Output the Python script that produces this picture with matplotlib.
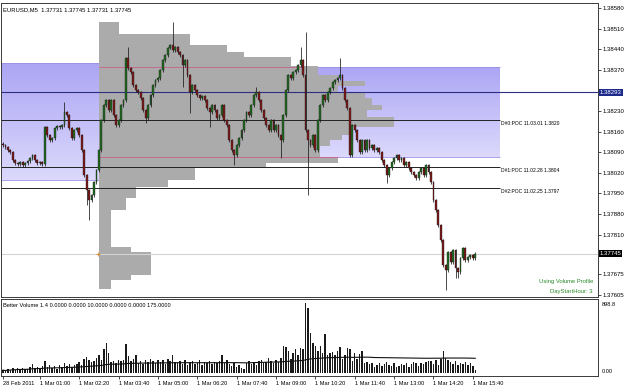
import matplotlib.pyplot as plt
import numpy as np
import pandas as pd

plt.rcParams['font.family'] = ['Liberation Sans', 'DejaVu Sans']

# prices are stored as points (1e-5) above 1.37000
BASE = 1.37
first_open = 1118
closes = [1114, 1107, 1097, 1090, 1063, 1053, 1049, 1056, 1046, 1053,
          1060, 1070, 1080, 1063, 1053, 1056, 1049, 1175, 1148, 1131,
          1138, 1172, 1179, 1175, 1182, 1226, 1216, 1172, 1138, 1165,
          1172, 1148, 1097, 1012, 961, 927, 944, 988, 1029, 1097,
          1199, 1250, 1267, 1233, 1267, 1216, 1182, 1199, 1250, 1267,
          1410, 1376, 1362, 1318, 1301, 1294, 1274, 1233, 1206, 1250,
          1284, 1318, 1335, 1342, 1369, 1403, 1420, 1444, 1454, 1437,
          1447, 1430, 1420, 1386, 1403, 1352, 1294, 1318, 1301, 1284,
          1274, 1281, 1267, 1240, 1226, 1250, 1233, 1206, 1216, 1250,
          1199, 1182, 1131, 1097, 1080, 1114, 1138, 1165, 1199, 1226,
          1216, 1250, 1284, 1294, 1267, 1233, 1206, 1182, 1165, 1199,
          1165, 1182, 1148, 1131, 1216, 1301, 1352, 1342, 1362, 1369,
          1386, 1403, 1352, 1165, 1131, 1114, 1148, 1097, 1199, 1250,
          1284, 1267, 1294, 1308, 1328, 1335, 1342, 1352, 1308, 1267,
          1240, 1080, 1182, 1165, 1131, 1090, 1131, 1097, 1131, 1104,
          1114, 1097, 1104, 1090, 1063, 1046, 1012, 1036, 1056, 1070,
          1080, 1063, 1070, 1046, 1056, 1036, 1022, 1012, 1002, 1022,
          1036, 1012, 1046, 1022, 988, 927, 893, 842, 791, 706,
          689, 750, 716, 757, 696, 682, 730, 764, 723, 733,
          740, 730, 745]
high_spikes = {25: 1260, 51: 1447, 69: 1532, 103: 1311, 121: 1447, 123: 1498, 137: 1410}
low_spikes = {34: 910, 35: 860, 58: 1189, 73: 1311, 76: 1223, 84: 1175, 94: 1046,
              113: 1070, 124: 944, 156: 985, 180: 622, 184: 662, 185: 662}
WICK = 5

volumes = [38, 25, 51, 38, 63, 38, 63, 51, 63, 51,
           51, 76, 114, 63, 76, 51, 89, 152, 76, 101,
           63, 89, 51, 101, 76, 127, 89, 114, 76, 101,
           114, 139, 101, 177, 203, 165, 139, 152, 190, 228,
           165, 304, 380, 253, 139, 152, 127, 165, 152, 165,
           367, 215, 152, 177, 228, 127, 152, 114, 165, 139,
           177, 152, 127, 165, 139, 165, 114, 177, 152, 228,
           139, 127, 152, 114, 165, 101, 139, 152, 114, 127,
           165, 101, 139, 127, 152, 114, 139, 127, 152, 228,
           127, 165, 114, 89, 127, 76, 101, 63, 51, 127,
           152, 114, 139, 101, 152, 165, 127, 139, 190, 152,
           127, 165, 139, 190, 342, 329, 279, 177, 253, 304,
           228, 317, 304, 899, 836, 519, 380, 342, 279, 342,
           253, 494, 228, 253, 266, 228, 279, 329, 177, 228,
           317, 304, 152, 253, 177, 241, 279, 127, 139, 114,
           127, 76, 101, 127, 89, 114, 139, 101, 89, 127,
           76, 89, 114, 101, 127, 76, 114, 139, 127, 89,
           127, 114, 139, 152, 152, 114, 165, 101, 177, 279,
           190, 165, 139, 114, 152, 101, 127, 114, 139, 101,
           127, 89, 38]

# volume profile of the current day (price edges in points, counts in bars)
prof_start = 39
prof_edges = [1533, 1492, 1454, 1431, 1414, 1383, 1352, 1332, 1315, 1295, 1274, 1251,
              1234, 1210, 1176, 1149, 1132, 1111, 1074, 1054, 1037, 996, 972, 935,
              894, 768, 751, 673, 656, 626]
prof_count = [8, 37, 52, 59, 78, 89, 97, 108, 97, 108, 111, 115, 109, 120, 102,
              99, 94, 90, 97, 68, 39, 28, 15, 11, 5, 13, 21, 13, 5]

va_prev = (996, 1393)
va_cur = (1074, 1379)
pocs = [(1.3820, 'D#0:POC 11.03.01 1.3820'),
        (1.3804, 'D#1:POC 11.02.28 1.3804'),
        (1.3797, 'D#2:POC 11.02.25 1.3797')]
level_line = 1.38293
bid = 1.37745
price_ticks = [1.38580, 1.38510, 1.38440, 1.38370, 1.38230, 1.38160, 1.38090,
               1.38020, 1.37950, 1.37880, 1.37810, 1.37675, 1.37605]
tick_bars = [0, 15, 31, 47, 63, 79, 95, 111, 127, 143, 159, 175, 191]

n = len(closes)
c = BASE + np.array(closes) / 1e5
o = BASE + np.array([first_open] + closes[:-1]) / 1e5
hi = np.maximum(o, c) + WICK / 1e5
lo = np.minimum(o, c) - WICK / 1e5
for k, v in high_spikes.items():
    hi[k] = BASE + v / 1e5
for k, v in low_spikes.items():
    lo[k] = BASE + v / 1e5
x = np.arange(n)
times = pd.date_range('2011-02-28 23:45', periods=n, freq='5min')

fig = plt.figure(figsize=(6.25, 3.91), dpi=100)
ax = fig.add_axes([1 / 625, 1 - 297 / 391, 597 / 625, 294 / 391])
axv = fig.add_axes([1 / 625, 1 - 376 / 391, 597 / 625, 77 / 391])
xlim = (-0.8, 241.9)
ylim = (1.37598, 1.38597)


def gradient_box(x0, x1, p0, p1):
    t = np.linspace(0, 1, 64)[:, None, None]
    top = np.array([172, 166, 244]) / 255
    bot = np.array([220, 217, 252]) / 255
    img = top * (1 - t) + bot * t
    ax.imshow(img, extent=[x0, x1, p0, p1], origin='upper', aspect='auto', zorder=0)
    ax.hlines([p0, p1], x0, x1, color='#9a92e4', lw=0.6, zorder=0.5)


gradient_box(xlim[0], prof_start, BASE + va_prev[0] / 1e5, BASE + va_prev[1] / 1e5)
gradient_box(prof_start, 202, BASE + va_cur[0] / 1e5, BASE + va_cur[1] / 1e5)

# profile
edges = BASE + np.array(prof_edges) / 1e5
ax.barh(edges[1:], prof_count, height=edges[:-1] - edges[1:], left=prof_start,
        align='edge', color='#ababab', zorder=1)
ax.hlines(BASE + va_cur[1] / 1e5, prof_start, 122, color='#c8608a', lw=0.6, zorder=1.5)
ax.hlines(BASE + va_cur[0] / 1e5, prof_start, 136, color='#c8608a', lw=0.6, zorder=1.5)

# lines
ax.axhline(level_line, color='#2e2e80', lw=0.8, zorder=2)
ax.axhline(bid, color='#d2d2d2', lw=0.8, zorder=2)
for p, lab in pocs:
    ax.hlines(p, xlim[0], 202, color='#222222', lw=0.7, zorder=2)
    ax.text(202.5, p - 0.00013, lab, fontsize=3.6, va='center', ha='left', zorder=5)
ax.plot(prof_start - 0.5, bid, marker='+', color='#e08020', ms=2.5, mew=0.6, zorder=5)

# candles
up = c >= o
ax.vlines(x, lo, hi, color='#1a1a1a', lw=0.55, zorder=3)
body = np.maximum(np.abs(c - o), 0.000025)
ax.bar(x, body, bottom=np.minimum(o, c), width=0.75,
       color=np.where(up, '#236b23', '#7d1a1a'), edgecolor='#111111', lw=0.25, zorder=4)

ax.set_xlim(*xlim)
ax.set_ylim(*ylim)
ax.set_xticks([])
ax.yaxis.tick_right()
ax.set_yticks(price_ticks)
ax.set_yticklabels([f'{p:.5f}' for p in price_ticks])
ax.tick_params(axis='y', length=2, width=0.5, labelsize=4.3, pad=1.5)
for lab, p, bg in [('1.38293', level_line, '#1c2a8c'), ('1.37745', bid, '#000000')]:
    ax.text(1.003, p, lab, transform=ax.get_yaxis_transform(), fontsize=4.3, color='white',
            va='center', ha='left', clip_on=False,
            bbox=dict(boxstyle='square,pad=0.15', fc=bg, ec='none'))
ax.text(0.004, 0.976, 'EURUSD,M5  1.37731 1.37745 1.37731 1.37745', transform=ax.transAxes,
        fontsize=4.2, va='center', ha='left')
ax.text(0.992, (297 - 282) / 294, 'Using Volume Profile', transform=ax.transAxes,
        fontsize=4.2, color='#2a8a2a', ha='right', va='center')
ax.text(0.990, (297 - 291) / 294, 'DayStartHour: 3', transform=ax.transAxes,
        fontsize=4.2, color='#2a8a2a', ha='right', va='center')

# volume panel
ma = pd.Series(volumes).rolling(100, min_periods=1).mean()
axv.bar(x, volumes, width=0.6, color='#1a1a1a', zorder=2)
axv.plot(x, ma, color='#111111', lw=0.8, zorder=3)
axv.set_xlim(*xlim)
axv.set_ylim(-38, 949)
axv.set_yticks([])
axv.text(0.004, 0.92, 'Better Volume 1.4 0.0000 0.0000 10.0000 0.0000 0.0000 175.0000',
         transform=axv.transAxes, fontsize=4.1, va='center', ha='left')
axv.text(1.006, 0.93, '898.8', transform=axv.transAxes, fontsize=4.1, va='center', ha='left')
axv.text(1.006, 0.06, '0.00', transform=axv.transAxes, fontsize=4.1, va='center', ha='left')
axv.set_xticks(tick_bars)
axv.set_xticklabels(['28 Feb 2011' if i == 0 else f'{times[i].day} {times[i]:%b %H:%M}'
                     for i in tick_bars])
axv.tick_params(axis='x', length=2, width=0.5, labelsize=4.1, pad=1.5)
for t in axv.get_xticklabels():
    t.set_ha('left')

for a in (ax, axv):
    for s in a.spines.values():
        s.set_color('#3a3a3a')
        s.set_linewidth(0.7)

fig.savefig('out.png', dpi=100)
